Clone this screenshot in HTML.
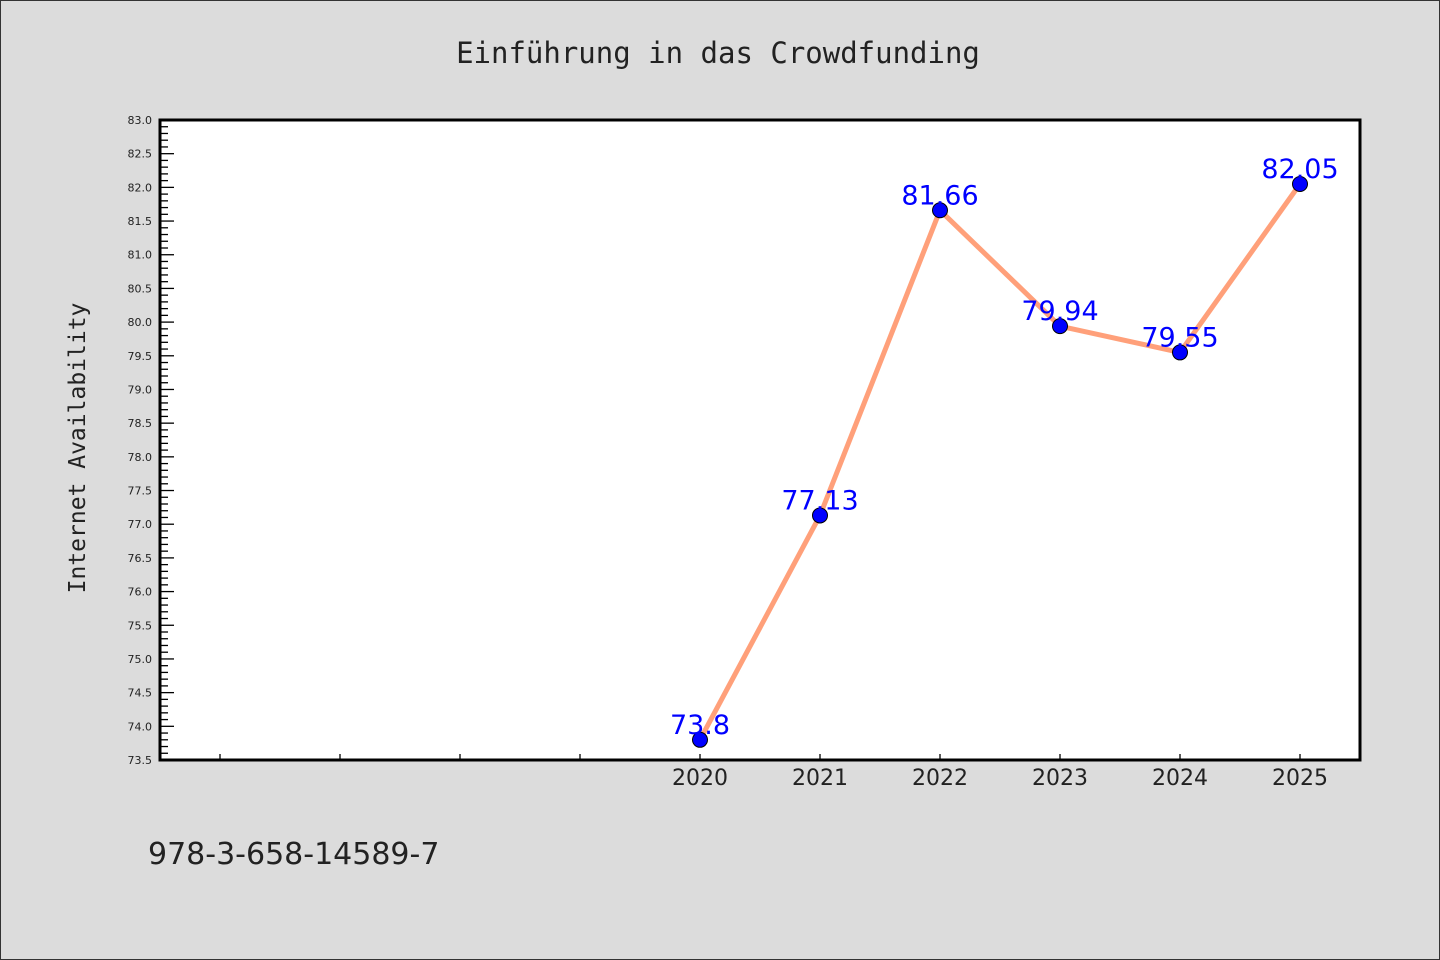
<!DOCTYPE html>
<html><head><meta charset="utf-8"><style>
html,body{margin:0;padding:0;background:#dcdcdc}
svg{display:block}
text{font-family:"DejaVu Sans Mono","Liberation Mono",monospace}
</style></head><body>
<svg id="chart" width="1440" height="960" viewBox="0 0 1440 960" xmlns="http://www.w3.org/2000/svg">
<rect x="0.5" y="0.5" width="1439" height="959" fill="#dcdcdc" stroke="#333" stroke-width="1"/>
<text x="718" y="63" text-anchor="middle" font-size="29" fill="#222">Einführung in das Crowdfunding</text>
<rect x="160" y="120" width="1200" height="640" fill="#fff"/>
<text transform="translate(85,448) rotate(-90)" text-anchor="middle" font-size="23" fill="#222">Internet Availability</text>
<text x="148" y="864" font-size="30" fill="#222" style="font-family:'DejaVu Sans','Liberation Sans',sans-serif">978-3-658-14589-7</text>
<g id="axes"></g>
<g id="marks"></g>
<rect x="160" y="120" width="1200" height="640" fill="none" stroke="#000" stroke-width="3"/>
</svg>
<script>
const years = [2020, 2021, 2022, 2023, 2024, 2025];
const values = [73.8, 77.13, 81.66, 79.94, 79.55, 82.05];
const valueLabels = ["73.8", "77.13", "81.66", "79.94", "79.55", "82.05"];
const yTickLabels = ["73.5","74.0","74.5","75.0","75.5","76.0","76.5","77.0","77.5","78.0","78.5","79.0","79.5","80.0","80.5","81.0","81.5","82.0","82.5","83.0"];
const xTickYears = [2016, 2017, 2018, 2019, 2020, 2021, 2022, 2023, 2024, 2025];

const NS = "http://www.w3.org/2000/svg";
const x0 = 160, x1 = 1360, y0 = 760, y1 = 120;
const xMin = 2015.5, xMax = 2025.5, yMin = 73.5, yMax = 83.0;
function xs(v){ return x0 + (v - xMin) / (xMax - xMin) * (x1 - x0); }
function ys(v){ return y0 - (v - yMin) / (yMax - yMin) * (y0 - y1); }
function mk(tag, attrs, parent){ const e = document.createElementNS(NS, tag); for (const k in attrs) e.setAttribute(k, attrs[k]); parent.appendChild(e); return e; }

const axes = document.getElementById('axes');
// minor y ticks
for (let i = 0; i <= 95; i++) {
  const v = yMin + i * 0.1;
  const major = i % 5 === 0;
  const t = mk('line', {x1: x0, x2: x0 + (major ? 14 : 8), y1: ys(v), y2: ys(v), stroke: '#000', 'stroke-width': 1.3}, axes);
  
  
}
yTickLabels.forEach(l => {
  const t = mk('text', {x: 152, y: ys(parseFloat(l)) + 4, 'text-anchor': 'end', 'font-size': 11, fill: '#222', style: "font-family:'DejaVu Sans',sans-serif"}, axes);
  t.textContent = l;
  
  
});
xTickYears.forEach(yr => {
  const t = mk('line', {x1: xs(yr), x2: xs(yr), y1: y0, y2: y0 - 6, stroke: '#000', 'stroke-width': 1.3}, axes);
  
  
});
years.forEach(yr => {
  const t = mk('text', {x: xs(yr), y: 785, 'text-anchor': 'middle', 'font-size': 22, fill: '#222', style: "font-family:'DejaVu Sans',sans-serif"}, axes);
  t.textContent = String(yr);
  
  
});

const marks = document.getElementById('marks');
const pts = years.map((yr, i) => xs(yr) + ',' + ys(values[i])).join(' ');
const line = mk('polyline', {points: pts, fill: 'none', stroke: '#ffa07a', 'stroke-width': 5, 'stroke-linejoin': 'round'}, marks);


years.forEach((yr, i) => {
  const c = mk('circle', {cx: xs(yr), cy: ys(values[i]), r: 7.5, fill: '#0000ff', stroke: '#000', 'stroke-width': 1}, marks);
  
  
  const t = mk('text', {x: xs(yr), y: ys(values[i]) - 6, 'text-anchor': 'middle', 'font-size': 27, fill: '#0000ff', style: "font-family:'DejaVu Sans',sans-serif"}, marks);
  t.textContent = valueLabels[i];
  
  
});
</script>
</body></html>
